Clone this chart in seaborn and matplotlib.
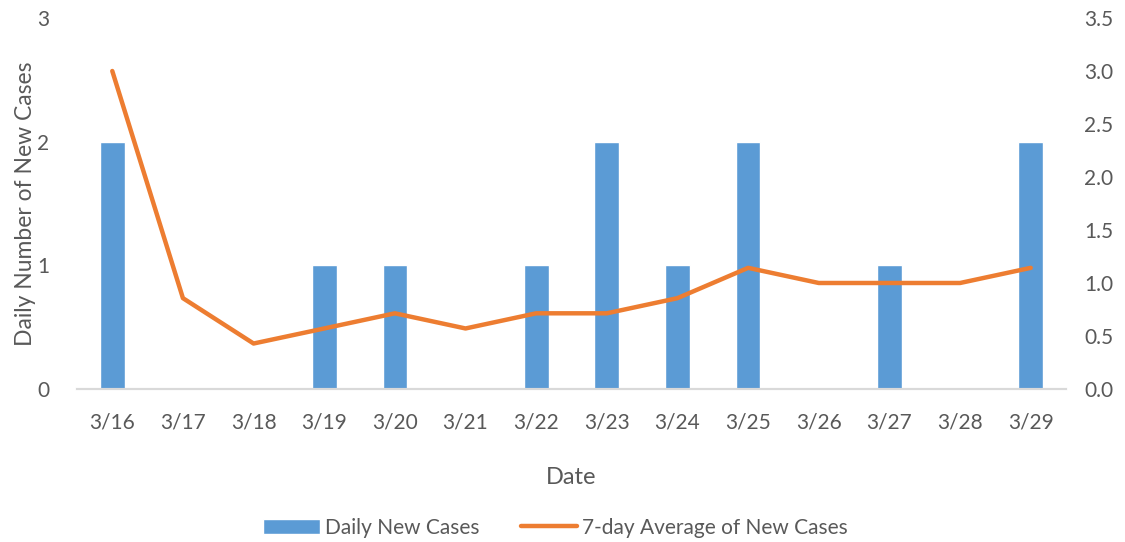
import pandas as pd
import matplotlib
matplotlib.use("Agg")
import matplotlib.pyplot as plt
import seaborn as sns

dates = ["3/16", "3/17", "3/18", "3/19", "3/20", "3/21", "3/22",
         "3/23", "3/24", "3/25", "3/26", "3/27", "3/28", "3/29"]
daily_cases = [2, 0, 0, 1, 1, 0, 1, 2, 1, 2, 0, 1, 0, 2]
avg_cases = [3.0, 0.857, 0.429, 0.571, 0.714, 0.571, 0.714,
             0.714, 0.857, 1.143, 1.0, 1.0, 1.0, 1.143]

df = pd.DataFrame({"Date": dates, "Daily": daily_cases, "Avg": avg_cases})

sns.set_theme(style="white")
plt.rcParams['font.family'] = ['Lato', 'DejaVu Sans']
text_col = "#595959"
axis_col = "#d9d9d9"

fig = plt.figure(figsize=(11.25, 5.42), dpi=100)
ax = fig.add_axes([0.0684, 0.2823, 0.8792, 0.6845])

sns.barplot(data=df, x="Date", y="Daily", color="#5B9BD5", width=0.35,
            saturation=1, ax=ax, label="Daily New Cases")
ax2 = ax.twinx()
sns.lineplot(data=df, x="Date", y="Avg", color="#ED7D31", linewidth=3.2,
             ax=ax2, label="7-day Average of New Cases", legend=False)

ax.set_xlim(-0.5, len(dates) - 0.5)
ax.set_ylim(0, 3)
ax.set_yticks([0, 1, 2, 3])
ax2.set_ylim(0, 3.5)
ax2.set_yticks([0, 0.5, 1, 1.5, 2, 2.5, 3, 3.5])
ax2.set_yticklabels([f"{v:.1f}" for v in ax2.get_yticks()])

for a in (ax, ax2):
    for s in ["left", "right", "top"]:
        a.spines[s].set_visible(False)
    a.spines["bottom"].set_color(axis_col)
    a.spines["bottom"].set_linewidth(1.5)
    a.tick_params(axis="y", length=0, labelsize=15, labelcolor=text_col)

ax.tick_params(axis="y", pad=20)
ax2.tick_params(axis="y", pad=13)

# category ticks sit between the bars
ax.set_xticks([i - 0.5 for i in range(len(dates) + 1)], minor=True)
ax.tick_params(axis="x", which="minor", length=7, width=1.5, color=axis_col, direction="out")
ax.tick_params(axis="x", which="major", length=0, labelsize=15, labelcolor=text_col, pad=17)

ax.set_xlabel("Date", fontsize=17, color=text_col, labelpad=25)
ax.set_ylabel("Daily Number of New Cases", fontsize=16.5, color=text_col, labelpad=1)
ax2.set_ylabel("")

h1, l1 = ax.get_legend_handles_labels()
h2, l2 = ax2.get_legend_handles_labels()
if ax.get_legend() is not None:
    ax.get_legend().remove()
leg = fig.legend(h1 + h2, l1 + l2, loc="center", bbox_to_anchor=(0.494, 0.026),
                 ncol=2, frameon=False, fontsize=15, handlelength=2.7,
                 handleheight=0.75, columnspacing=2.0, handletextpad=0.25)
for t in leg.get_texts():
    t.set_color(text_col)

fig.savefig("out.png", dpi=100)
